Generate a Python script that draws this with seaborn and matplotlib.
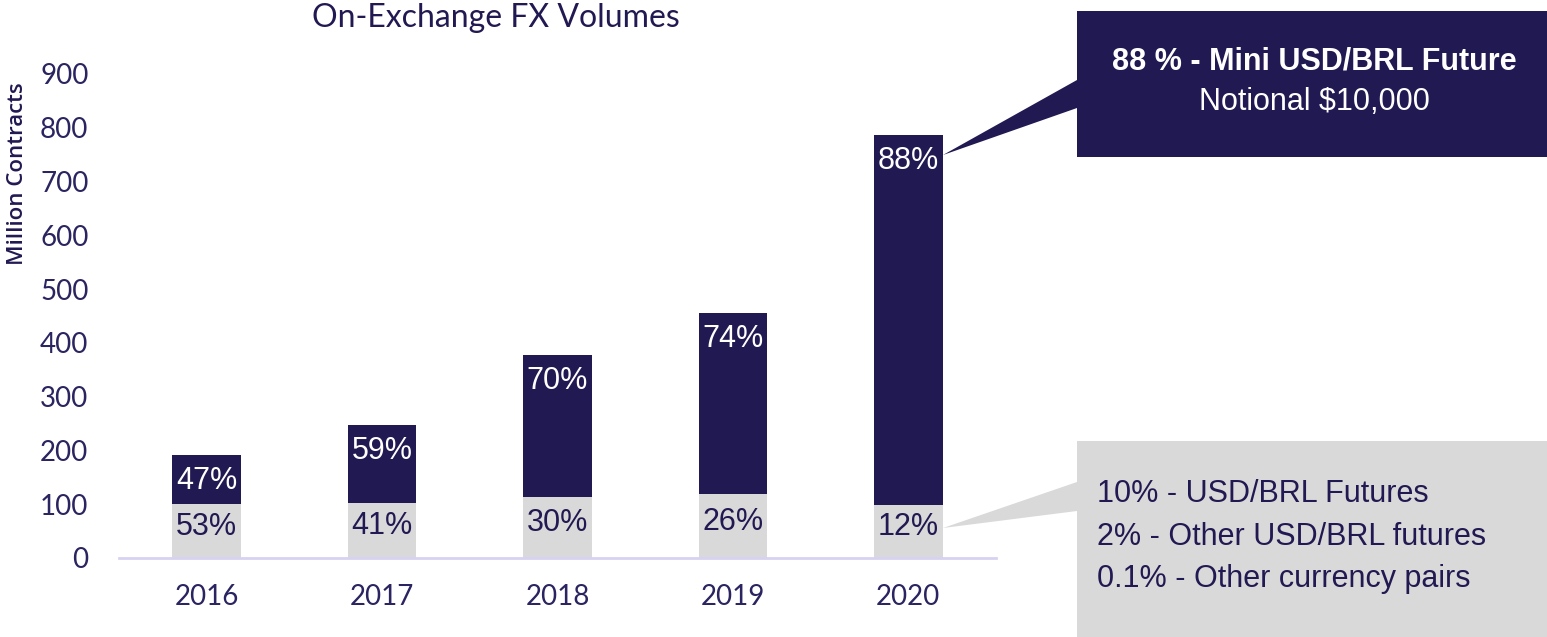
import numpy as np
import pandas as pd
import seaborn as sns
import matplotlib.pyplot as plt
from matplotlib.patches import Rectangle, Polygon

# values (million contracts)
years = ["2016", "2017", "2018", "2019", "2020"]
other_fx = [101, 103, 113, 119, 98]      # grey part (other FX contracts)
mini_fut = [91, 145, 264, 337, 689]      # dark part (mini USD/BRL future)
other_pct = ["53%", "41%", "30%", "26%", "12%"]
mini_pct = ["47%", "59%", "70%", "74%", "88%"]
y_ticks = [0, 100, 200, 300, 400, 500, 600, 700, 800, 900]

navy = "#211951"
grey = "#D9D9D9"
W, H = 1547, 637

sns.set_theme(style="white")
plt.rcParams["font.family"] = ["Lato", "DejaVu Sans"]

df = pd.DataFrame({"year": years, "other": other_fx, "mini": mini_fut})
df["total"] = df["other"] + df["mini"]

def fx(x):
    return x / W

def fy(y):
    return 1 - y / H

fig = plt.figure(figsize=(W / 100, H / 100), dpi=100)
ax = fig.add_axes([fx(119), fy(558), (996 - 119) / W, (558 - 74) / H])

sns.barplot(data=df, x="year", y="total", color=navy, width=0.39, saturation=1,
            errorbar=None, linewidth=0, ax=ax)
sns.barplot(data=df, x="year", y="other", color=grey, width=0.39, saturation=1,
            errorbar=None, linewidth=0, ax=ax)

for i, row in df.iterrows():
    ax.annotate(mini_pct[i], (i, row["total"]), xytext=(0, -8), textcoords="offset points",
                ha="center", va="top", color="white", fontsize=22, family="Liberation Sans")
    ax.annotate(other_pct[i], (i, row["other"] / 2), xytext=(0, 3), textcoords="offset points",
                ha="center", va="center", color=navy, fontsize=22, family="Liberation Sans")

ax.set_xlim(-0.5, 4.5)
ax.set_ylim(0, 900)
ax.set_yticks(y_ticks)
ax.set_xlabel("")
ax.set_ylabel("")
ax.tick_params(axis="y", length=0, pad=22, labelsize=20, labelcolor="#2A2460")
ax.tick_params(axis="x", length=0, pad=19, labelsize=20, labelcolor="#2A2460")
sns.despine(ax=ax, left=True)
ax.spines["bottom"].set_color("#D6D2F2")
ax.spines["bottom"].set_linewidth(2)

fig.text(fx(496), fy(18), "On-Exchange FX Volumes", ha="center", va="center",
         fontsize=23, color=navy)
fig.text(fx(18), fy(174), "Million Contracts", rotation=90, ha="center", va="center",
         fontsize=16, color=navy, family="Open Sans", fontweight="semibold")

# dark callout
fig.add_artist(Rectangle((fx(1077), fy(157)), (W - 1077) / W, 146 / H,
                         transform=fig.transFigure, color=navy, lw=0))
fig.add_artist(Polygon([(fx(943), fy(155)), (fx(1077), fy(80)), (fx(1077), fy(108))],
                       closed=True, transform=fig.transFigure, color=navy, lw=0))
fig.text(fx(1314), fy(62), "88 % - Mini USD/BRL Future", ha="center", va="center",
         fontsize=22, fontweight="bold", color="white", family="Liberation Sans")
fig.text(fx(1314), fy(102), r"Notional \$10,000", ha="center", va="center",
         fontsize=22, color="white", family="Liberation Sans")

# grey callout
fig.add_artist(Rectangle((fx(1077), 0), (W - 1077) / W, (H - 441) / H,
                         transform=fig.transFigure, color=grey, lw=0))
fig.add_artist(Polygon([(fx(943), fy(528)), (fx(1077), fy(482)), (fx(1077), fy(511))],
                       closed=True, transform=fig.transFigure, color=grey, lw=0))
for txt, yy in zip(["10% - USD/BRL Futures", "2% - Other USD/BRL futures",
                    "0.1% - Other currency pairs"], [494, 537, 579]):
    fig.text(fx(1097), fy(yy), txt, ha="left", va="center", fontsize=22,
             color=navy, family="Liberation Sans")

fig.savefig("out.png", dpi=100)
